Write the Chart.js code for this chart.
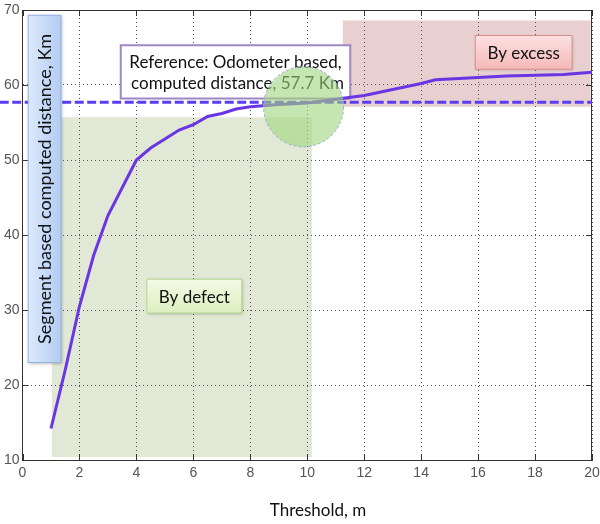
<!DOCTYPE html>
<html>
<head>
<meta charset="utf-8">
<script src="https://cdn.jsdelivr.net/npm/chart.js@4.4.1/dist/chart.umd.min.js"></script>
<style>
    html, body { margin: 0; padding: 0; background: #fff; }
</style>
</head>
<body>
<canvas id="graph" width="600" height="524"></canvas>
<script>
// threshold (m) -> segment based computed distance (Km)
const thresholds = [1, 1.5, 2, 2.5, 3, 4, 4.5, 5, 5.5, 6, 6.5, 7, 7.5, 8, 9, 10, 11, 12, 13, 14, 14.5, 16, 17, 18, 19, 20];
const distances = [14.2, 22.0, 30.5, 37.3, 42.6, 50.0, 51.6, 52.8, 54.0, 54.7, 55.8, 56.2, 56.8, 57.1, 57.4, 57.6, 58.1, 58.6, 59.4, 60.2, 60.7, 61.0, 61.2, 61.3, 61.4, 61.7];

// odometer reference
const refValue = 57.7;
const refSpan = [-0.8, 20];

// highlighted crossing
const crossX = [9.87];
const crossY = [57.1];

// shaded zones [x1, x2, y1, y2]
const defectZone = [1.03, 10.16, 10.4, 55.7];
const excessZone = [11.25, 19.95, 57.1, 68.6];

const xTickValues = [0, 2, 4, 6, 8, 10, 12, 14, 16, 18, 20];
const yTickValues = [10, 20, 30, 40, 50, 60, 70];

const xTitle = 'Threshold, m';
const yTitle = 'Segment based computed distance, Km';
const refText = ['Reference: Odometer based,', 'computed distance, 57.7 Km'];
const defectText = 'By defect';
const excessText = 'By excess';

const LABEL_FONT = '17px Lato, "Open Sans", sans-serif';
const YTITLE_FONT = '18px Lato, "Open Sans", sans-serif';

function rectPx(chart, x1, x2, y1, y2) {
    const sx = chart.scales.x, sy = chart.scales.y;
    const l = sx.getPixelForValue(x1), r = sx.getPixelForValue(x2);
    const t = sy.getPixelForValue(y2), b = sy.getPixelForValue(y1);
    return {l: l, t: t, w: r - l, h: b - t};
}

function drawBox(ctx, r, fill, stroke, lw, shadow) {
    ctx.save();
    if (shadow) {
        ctx.shadowColor = 'rgba(0,0,0,0.25)';
        ctx.shadowBlur = 3;
        ctx.shadowOffsetX = 1;
        ctx.shadowOffsetY = 1;
    }
    ctx.fillStyle = fill;
    ctx.fillRect(r.l, r.t, r.w, r.h);
    ctx.restore();
    ctx.save();
    ctx.strokeStyle = stroke;
    ctx.lineWidth = lw;
    ctx.strokeRect(r.l, r.t, r.w, r.h);
    ctx.restore();
}

function label(ctx, text, x, y, font) {
    ctx.save();
    ctx.fillStyle = '#111';
    ctx.font = font || LABEL_FONT;
    ctx.textAlign = 'center';
    ctx.textBaseline = 'middle';
    ctx.fillText(text, x, y);
    ctx.restore();
}

const decorations = {
    id: 'decorations',
    beforeDraw(chart) {
        const ctx = chart.ctx;
        ctx.save();
        ctx.fillStyle = '#fff';
        ctx.fillRect(0, 0, chart.width, chart.height);
        let r = rectPx(chart, ...defectZone);
        ctx.fillStyle = '#e1e8d5';
        ctx.fillRect(r.l, r.t, r.w, r.h);
        r = rectPx(chart, ...excessZone);
        ctx.fillStyle = '#e8d0d0';
        ctx.fillRect(r.l, r.t, r.w, r.h);
        ctx.restore();
    },
    beforeDatasetsDraw(chart) {
        const ctx = chart.ctx;
        const a = chart.chartArea;
        const sx = chart.scales.x, sy = chart.scales.y;

        // frame and inward ticks
        ctx.save();
        ctx.strokeStyle = '#333';
        ctx.lineWidth = 1;
        ctx.beginPath();
        ctx.moveTo(a.left, a.top + 0.5);
        ctx.lineTo(a.right, a.top + 0.5);
        ctx.moveTo(a.right - 0.5, a.top);
        ctx.lineTo(a.right - 0.5, a.bottom);
        xTickValues.forEach(v => {
            const px = Math.round(sx.getPixelForValue(v)) + 0.5;
            ctx.moveTo(px, a.bottom); ctx.lineTo(px, a.bottom - 6);
            ctx.moveTo(px, a.top); ctx.lineTo(px, a.top + 6);
        });
        yTickValues.forEach(v => {
            const py = Math.round(sy.getPixelForValue(v)) + 0.5;
            ctx.moveTo(a.left, py); ctx.lineTo(a.left + 6, py);
            ctx.moveTo(a.right, py); ctx.lineTo(a.right - 6, py);
        });
        ctx.stroke();
        ctx.restore();

        // reference note
        const r = rectPx(chart, 3.45, 11.51, 58.2, 65.3);
        drawBox(ctx, r, '#fff', '#a086c4', 2, false);
        const cx = r.l + r.w / 2;
        label(ctx, refText[0], cx, r.t + 17);
        label(ctx, refText[1], cx + 2, r.t + 38);
    },
    beforeDatasetDraw(chart, args) {
        if (args.index === 0) {
            chart.ctx.save();
            chart.ctx.setLineDash([3, 2]);
        }
    },
    afterDatasetDraw(chart, args) {
        if (args.index === 0) {
            chart.ctx.restore();
        }
    },
    afterDatasetsDraw(chart) {
        const ctx = chart.ctx;

        // y title box
        let r = rectPx(chart, 0.2, 1.35, 23.0, 69.3);
        let g = ctx.createLinearGradient(r.l, 0, r.l + r.w, 0);
        g.addColorStop(0, '#dde9fb');
        g.addColorStop(1, '#b3ccf3');
        drawBox(ctx, r, g, '#93b1df', 1, true);
        ctx.save();
        ctx.translate(r.l + r.w / 2 + 1, r.t + r.h / 2);
        ctx.rotate(-Math.PI / 2);
        label(ctx, yTitle, 0, 0, YTITLE_FONT);
        ctx.restore();

        // by defect
        r = rectPx(chart, 4.37, 7.7, 29.6, 34.1);
        g = ctx.createLinearGradient(0, r.t, 0, r.t + r.h);
        g.addColorStop(0, '#f3fae6');
        g.addColorStop(1, '#dcefc0');
        drawBox(ctx, r, g, '#b6d78e', 1, true);
        label(ctx, defectText, r.l + r.w / 2, r.t + r.h / 2 + 1);

        // by excess
        r = rectPx(chart, 15.9, 19.3, 62.1, 66.6);
        g = ctx.createLinearGradient(0, r.t, 0, r.t + r.h);
        g.addColorStop(0, '#fde0e0');
        g.addColorStop(1, '#f5b9b9');
        drawBox(ctx, r, g, '#d98e8e', 1, true);
        label(ctx, excessText, r.l + r.w / 2, r.t + r.h / 2 + 1);
    },
    afterDraw(chart) {
        label(chart.ctx, xTitle, 318, 511);
    }
};

const tickFont = {family: '"Liberation Sans", Arial, sans-serif', size: 14};

const graph = new Chart(document.getElementById('graph'), {
    type: 'scatter',
    data: {
        datasets: [
            {
                label: 'crossing',
                data: crossX.map((x, i) => ({x: x, y: crossY[i]})),
                pointRadius: 40,
                pointHoverRadius: 40,
                backgroundColor: 'rgba(160,214,125,0.6)',
                borderColor: '#8fb3c9',
                borderWidth: 1,
                clip: false
            },
            {
                label: 'distance',
                data: thresholds.map((x, i) => ({x: x, y: distances[i]})),
                showLine: true,
                borderColor: '#6a35e2',
                borderWidth: 3,
                pointRadius: 0,
                tension: 0
            },
            {
                label: 'reference',
                data: refSpan.map(x => ({x: x, y: refValue})),
                showLine: true,
                borderColor: '#5a3cf2',
                borderWidth: 3,
                borderDash: [9, 3.5],
                pointRadius: 0,
                clip: false
            }
        ]
    },
    options: {
        responsive: false,
        animation: false,
        events: [],
        layout: {autoPadding: false, padding: {left: 0, right: 8, top: 10, bottom: 0}},
        plugins: {
            legend: {display: false},
            tooltip: {enabled: false}
        },
        scales: {
            x: {
                type: 'linear',
                min: 0,
                max: 20,
                afterBuildTicks: s => { s.ticks = xTickValues.map(v => ({value: v})); },
                afterFit: s => { s.height = 64; s.paddingLeft = 0; s.paddingRight = 0; },
                grid: {color: '#555', drawTicks: false},
                border: {color: '#333', width: 1, dash: [1, 3]},
                ticks: {color: '#555', font: tickFont, padding: 5, maxRotation: 0}
            },
            y: {
                min: 10,
                max: 70,
                afterBuildTicks: s => { s.ticks = yTickValues.map(v => ({value: v})); },
                afterFit: s => { s.width = 22.5; s.paddingTop = 0; s.paddingBottom = 0; },
                grid: {color: '#555', drawTicks: false},
                border: {color: '#333', width: 1, dash: [1, 3]},
                ticks: {color: '#555', font: tickFont, padding: 3}
            }
        }
    },
    plugins: [decorations]
});
</script>
</body>
</html>
